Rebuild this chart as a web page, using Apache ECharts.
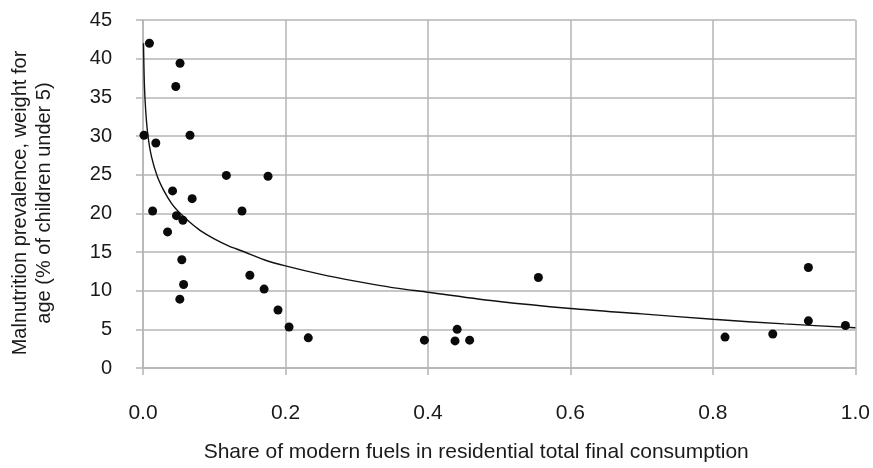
<!DOCTYPE html>
<html>
<head>
<meta charset="utf-8">
<title>Malnutrition vs modern fuels</title>
<script src="https://cdn.jsdelivr.net/npm/echarts@6/dist/echarts.min.js"></script>
<style>
    html,body{margin:0;padding:0;background:#fff;}
    #scatterChart{width:873px;height:468px;}
</style>
</head>
<body>
<div id="scatterChart"></div>
<script>
// 散点数据：现代燃料占比 / 营养不良率
var shareX = [0.009, 0.052, 0.046, 0.0014, 0.066, 0.018, 0.117, 0.1755, 0.0415, 0.069,
    0.0135, 0.139, 0.047, 0.056, 0.0345, 0.0545, 0.150, 0.057, 0.170, 0.0517,
    0.1895, 0.205, 0.232, 0.395, 0.441, 0.438, 0.4585, 0.555, 0.934, 0.934,
    0.986, 0.817, 0.884];
var malnutY = [42.0, 39.4, 36.4, 30.1, 30.1, 29.1, 24.9, 24.8, 22.9, 21.9,
    20.3, 20.3, 19.7, 19.1, 17.6, 14.0, 12.0, 10.8, 10.2, 8.9,
    7.5, 5.3, 3.9, 3.6, 5.0, 3.5, 3.6, 11.7, 13.0, 6.1,
    5.5, 4.0, 4.4];

// 趋势线（从图上读取的点）
var trendX = [0.0007, 0.002, 0.004, 0.007, 0.012, 0.02, 0.03, 0.04, 0.05, 0.065,
    0.08, 0.1, 0.12, 0.14, 0.17, 0.2, 0.25, 0.3, 0.35, 0.4,
    0.5, 0.6, 0.7, 0.8, 0.9, 1.0];
var trendY = [42, 36.5, 33, 30, 27.3, 24.8, 22.8, 21.3, 20.2, 18.9,
    17.8, 16.7, 15.8, 15.1, 14.0, 13.2, 12.1, 11.2, 10.4, 9.8,
    8.6, 7.7, 7.0, 6.3, 5.7, 5.2];

// 坐标轴刻度
var xTicks = [0, 0.2, 0.4, 0.6, 0.8, 1.0];
var yTicks = [0, 5, 10, 15, 20, 25, 30, 35, 40, 45];

var xName = 'Share of modern fuels in residential total final consumption';
var yName = 'Malnutrition prevalence, weight for\nage (% of children under 5)';

var gridColor = '#b4b4b4';
var textColor = '#1a1a1a';
var fontFamily = '"Liberation Sans", Arial, sans-serif';

function zipPairs(xs, ys){
    var out = [];
    for(var i = 0; i < xs.length; i++){
        out.push([xs[i], ys[i]]);
    }
    return out;
}

var myChart = echarts.init(document.getElementById('scatterChart'), null, {renderer: 'canvas'});

var option = {
    animation: false,
    backgroundColor: '#fff',
    grid: {
        left: 141,
        right: 16,
        top: 20,
        bottom: 98,
        containLabel: false
    },
    //x轴
    xAxis: {
        type: 'value',
        min: xTicks[0],
        max: xTicks[xTicks.length - 1],
        interval: 0.2,
        name: xName,
        nameLocation: 'middle',
        nameGap: 74,
        //标题稍向左偏
        nameTextStyle: {color: textColor, fontSize: 21, fontFamily: fontFamily, padding: [0, 46, 0, 0]},
        axisLine: {show: true, lineStyle: {color: gridColor, width: 1.5}},
        axisTick: {show: true, length: 7, lineStyle: {color: gridColor, width: 1.5}},
        axisLabel: {
            margin: 35,
            color: textColor,
            fontSize: 21,
            fontFamily: fontFamily,
            formatter: function(v){ return v.toFixed(1); }
        },
        splitLine: {show: true, lineStyle: {color: gridColor, width: 1.5}}
    },
    //y轴
    yAxis: {
        type: 'value',
        min: yTicks[0],
        max: yTicks[yTicks.length - 1],
        interval: 5,
        name: yName,
        nameLocation: 'middle',
        nameGap: 87,
        nameRotate: 90,
        nameTextStyle: {color: textColor, fontSize: 20, lineHeight: 24, fontFamily: fontFamily, padding: [0, 18, 0, 0]},
        axisLine: {show: true, lineStyle: {color: gridColor, width: 1.5}},
        axisTick: {show: true, length: 7, lineStyle: {color: gridColor, width: 1.5}},
        axisLabel: {
            margin: 31,
            color: textColor,
            fontSize: 20,
            fontFamily: fontFamily
        },
        splitLine: {show: true, lineStyle: {color: gridColor, width: 1.5}}
    },
    series: [
        {
            name: 'trend',
            type: 'line',
            data: zipPairs(trendX, trendY),
            smooth: 0.3,
            showSymbol: false,
            lineStyle: {color: '#111', width: 1.4},
            z: 3
        },
        {
            name: 'countries',
            type: 'scatter',
            data: zipPairs(shareX, malnutY),
            symbol: 'circle',
            symbolSize: 9,
            itemStyle: {color: '#0a0a0a', opacity: 1},
            z: 4
        }
    ]
};

myChart.setOption(option);
</script>
</body>
</html>
